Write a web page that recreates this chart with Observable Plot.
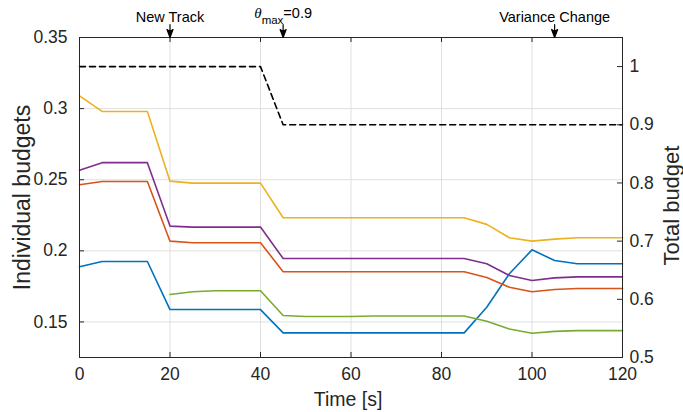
<!DOCTYPE html>
<html><head><meta charset="utf-8">
<script src="https://cdn.jsdelivr.net/npm/d3@7"></script>
<script src="https://cdn.jsdelivr.net/npm/@observablehq/plot@0.6"></script>
<style>body{margin:0;background:#fff;}</style>
</head><body><div id="chart"></div>
<script>
// ---- data ----
const time = [0,5,10,15,20,25,30,35,40,45,50,55,60,65,70,75,80,85,90,95,100,105,110,115,120];
const budgetBlue   = [0.1888,0.1925,0.1925,0.1925,0.1587,0.1587,0.1587,0.1587,0.1587,0.1423,0.1423,0.1423,0.1423,0.1423,0.1423,0.1423,0.1423,0.1423,0.1603,0.1839,0.2007,0.1932,0.1909,0.1909,0.1909];
const budgetOrange = [0.2465,0.2488,0.2488,0.2488,0.2068,0.2057,0.2057,0.2057,0.2057,0.1853,0.1853,0.1853,0.1853,0.1853,0.1853,0.1853,0.1853,0.1853,0.1813,0.1744,0.1712,0.1728,0.1735,0.1735,0.1735];
const budgetYellow = [0.3090,0.2980,0.2980,0.2980,0.2490,0.2476,0.2476,0.2476,0.2476,0.2233,0.2233,0.2233,0.2233,0.2233,0.2233,0.2233,0.2233,0.2233,0.2186,0.2092,0.2068,0.2082,0.2092,0.2092,0.2092];
const budgetPurple = [0.2566,0.2620,0.2620,0.2620,0.2174,0.2167,0.2167,0.2167,0.2167,0.1946,0.1946,0.1946,0.1946,0.1946,0.1946,0.1946,0.1946,0.1946,0.1909,0.1827,0.1791,0.1810,0.1817,0.1817,0.1817];
const budgetGreen  = [null,null,null,null,0.1693,0.1712,0.1719,0.1719,0.1719,0.1545,0.1538,0.1538,0.1538,0.1542,0.1542,0.1542,0.1542,0.1542,0.1505,0.1451,0.1420,0.1434,0.1439,0.1439,0.1439];
const totalBudget  = [1,1,1,1,1,1,1,1,1,0.9,0.9,0.9,0.9,0.9,0.9,0.9,0.9,0.9,0.9,0.9,0.9,0.9,0.9,0.9,0.9];

const seriesNames  = ["Track 1","Track 2","Track 3","Track 4","Track 5"];
const seriesColors = ["#0072BD","#D95319","#EDB120","#7E2F8E","#77AC30"];
const seriesValues = [budgetBlue, budgetOrange, budgetYellow, budgetPurple, budgetGreen];

const xTicks = [0,20,40,60,80,100,120];
const leftTicks = [0.15,0.2,0.25,0.3,0.35];
const rightTicks = [0.5,0.6,0.7,0.8,0.9,1];
const leftDomain = [0.125,0.35];
const rightDomain = [0.5,1.05];

const annotTimes = [20,45,105];
const annotLabels = ["New Track","θmax=0.9","Variance Change"];

const xLabel = "Time [s]";
const yLabelLeft = "Individual budgets";
const yLabelRight = "Total budget";

// ---- layout ----
const W = 683, H = 412, mL = 79, mR = 61, mT = 37, mB = 55;
const plotW = W - mL - mR, plotH = H - mT - mB;
const axisColor = "#262626";
const font = "Liberation Sans, Arial, Helvetica, sans-serif";

// map right-axis values onto the left y scale
const toLeft = v => leftDomain[0] + (v - rightDomain[0]) * (leftDomain[1]-leftDomain[0]) / (rightDomain[1]-rightDomain[0]);
const fromLeft = d => rightDomain[0] + (d - leftDomain[0]) * (rightDomain[1]-rightDomain[0]) / (leftDomain[1]-leftDomain[0]);

const rows = seriesNames.flatMap((name, s) => time.map((t, i) => ({t, v: seriesValues[s][i], series: name})));
const totalRows = time.map((t, i) => ({t, v: toLeft(totalBudget[i])}));
const annots = annotTimes.map((t, i) => ({t, label: annotLabels[i]}));

const arrowShape = {
  draw(context, l) {
    context.moveTo(0, 0);
    context.lineTo(0, -l + 4);
    context.moveTo(0, -l);
    context.lineTo(-3, -l + 8);
    context.lineTo(0, -l + 6);
    context.lineTo(3, -l + 8);
    context.closePath();
  }
};

const chart = Plot.plot({
  width: W, height: H,
  marginLeft: mL, marginRight: mR, marginTop: mT, marginBottom: mB,
  style: {fontFamily: font, fontSize: "17.5px", color: axisColor, background: "#fff", overflow: "visible"},
  x: {domain: [0,120]},
  y: {domain: leftDomain},
  color: {domain: seriesNames, range: seriesColors},
  marks: [
    Plot.ruleX(xTicks.slice(1, -1), {stroke: "#dfdfdf", strokeWidth: 1}),
    Plot.ruleY(leftTicks.slice(0, -1), {stroke: "#dfdfdf", strokeWidth: 1}),
    Plot.line(totalRows, {x: "t", y: "v", stroke: "#000", strokeWidth: 1.6, strokeDasharray: "6,4"}),
    Plot.line(rows, {x: "t", y: "v", z: "series", stroke: "series", strokeWidth: 1.6}),
    Plot.frame({stroke: axisColor, strokeWidth: 1}),
    // inward ticks
    Plot.tickY(leftTicks, {y: d => d, insetRight: plotW - 5, stroke: axisColor}),
    Plot.tickY(rightTicks.map(toLeft), {y: d => d, insetLeft: plotW - 5, stroke: axisColor}),
    Plot.tickX(xTicks, {x: d => d, insetTop: plotH - 5, stroke: axisColor}),
    Plot.tickX(xTicks, {x: d => d, insetBottom: plotH - 5, stroke: axisColor}),
    // tick labels
    Plot.axisX({ticks: xTicks, tickSize: 0, tickPadding: 10, label: null, tickFormat: d => String(d), fontSize: 17.5}),
    Plot.axisY({anchor: "left", ticks: leftTicks, tickSize: 0, tickPadding: 12, label: null, tickFormat: d => String(d), fontSize: 17.5}),
    Plot.axisY({anchor: "right", ticks: rightTicks.map(toLeft), tickSize: 0, tickPadding: 7, label: null,
      tickFormat: d => String(Math.round(fromLeft(d) * 10) / 10), fontSize: 17.5}),
    // axis titles
    Plot.text([xLabel], {frameAnchor: "bottom", text: d => d, dx: -3, dy: 48, lineAnchor: "bottom", fontSize: 19.5}),
    Plot.text([yLabelLeft], {frameAnchor: "left", text: d => d, textAnchor: "middle", dx: -57, rotate: -90, fontSize: 23}),
    Plot.text([yLabelRight], {frameAnchor: "right", text: d => d, textAnchor: "middle", dx: 49, dy: 8, rotate: -90, fontSize: 22}),
    // event annotations
    Plot.vector(annots, {x: "t", frameAnchor: "top", length: 13, rotate: 180, anchor: "end", shape: arrowShape, stroke: "#000", fill: "#000", strokeWidth: 1.2}),
    Plot.text(annots, {x: "t", text: "label", frameAnchor: "top", dy: -16, lineAnchor: "bottom", fontSize: 14.5, fill: "#000"})
  ]
});

// render the theta_max label with a subscript
d3.select(chart).selectAll("text").each(function() {
  if (this.textContent === annotLabels[1]) {
    const el = d3.select(this);
    el.text(null).attr("dy", "-4");
    el.append("tspan").attr("font-family", "Liberation Serif, serif").attr("font-style", "italic").attr("font-size", 15).text("θ");
    el.append("tspan").attr("font-size", 11.5).attr("dy", 6).text("max");
    el.append("tspan").attr("dy", -6).text("=0.9");
  }
});

document.getElementById("chart").appendChild(chart);
</script>
</body></html>
